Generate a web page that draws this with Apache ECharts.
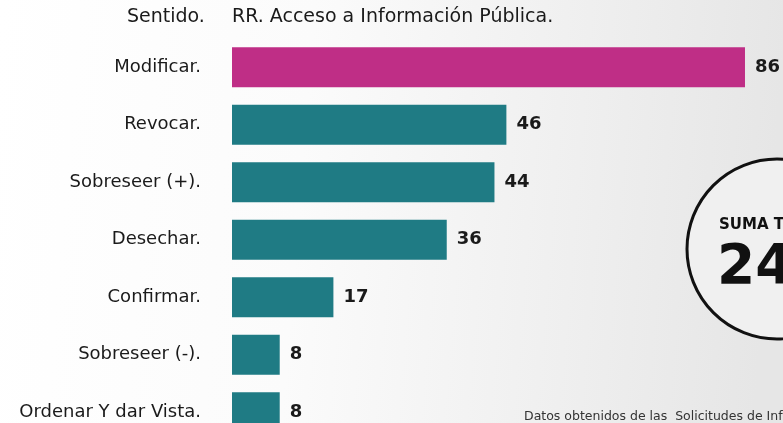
<!DOCTYPE html>
<html>
<head>
<meta charset="utf-8">
<script src="https://cdn.jsdelivr.net/npm/echarts@6/dist/echarts.min.js"></script>
<style>
  html, body { margin: 0; padding: 0; }
  #chart { width: 783px; height: 423px; }
</style>
</head>
<body>
<div id="chart"></div>
<script>
// Resoluciones de recursos de revisión por sentido
const categories = ['Modificar.', 'Revocar.', 'Sobreseer (+).', 'Desechar.', 'Confirmar.', 'Sobreseer (-).', 'Ordenar Y dar Vista.'];
const values = [86, 46, 44, 36, 17, 8, 8];
const headerLeft = 'Sentido.';
const headerRight = 'RR. Acceso a Información Pública.';
const totalLabel = 'SUMA TOTAL';
const footerText = 'Datos obtenidos de las  Solicitudes de Información Pública.';

const FONT = '"DejaVu Sans", "Noto Sans", sans-serif';
const total = values.reduce((a, b) => a + b, 0);
const maxVal = Math.max(...values);

const chart = echarts.init(document.getElementById('chart'), null, { renderer: 'canvas' });

chart.setOption({
  backgroundColor: {
    type: 'linear', x: 0, y: 0, x2: 1, y2: 0.15,
    colorStops: [
      { offset: 0, color: '#ffffff' },
      { offset: 0.4, color: '#fbfbfb' },
      { offset: 0.75, color: '#efefef' },
      { offset: 1, color: '#e6e6e6' }
    ]
  },
  animation: false,
  grid: {
    left: 232, top: 38.5, width: 596.5, height: 402.5,
    containLabel: false, outerBoundsMode: 'none'
  },
  xAxis: {
    type: 'value', min: 0, max: 100,
    show: false
  },
  yAxis: {
    type: 'category',
    data: categories,
    inverse: true,
    axisLine: { show: false },
    axisTick: { show: false },
    splitLine: { show: false },
    axisLabel: {
      margin: 31,
      color: '#1a1a1a',
      fontFamily: FONT,
      fontSize: 18
    }
  },
  series: [{
    type: 'bar',
    data: values.map(v => ({
      value: v,
      itemStyle: { color: v === maxVal ? '#bf2e86' : '#1f7b84' }
    })),
    barWidth: 40,
    label: {
      show: true,
      position: 'right',
      distance: 10,
      color: '#1a1a1a',
      fontFamily: FONT,
      fontSize: 18,
      fontWeight: 'bold'
    }
  }],
  graphic: [
    {
      type: 'text', left: 127, top: 8,
      style: { text: headerLeft, fill: '#1a1a1a', font: '19px ' + FONT }
    },
    {
      type: 'text', left: 232, top: 8,
      style: { text: headerRight, fill: '#1a1a1a', font: '19px ' + FONT }
    },
    {
      type: 'circle',
      shape: { cx: 777, cy: 249, r: 90 },
      style: { fill: '#f0f0f0', stroke: '#111111', lineWidth: 3 }
    },
    {
      type: 'text', x: 719, y: 218,
      style: { text: totalLabel, fill: '#111111', font: 'bold 15px ' + FONT }
    },
    {
      type: 'text', x: 717, y: 241,
      style: { text: String(total), fill: '#111111', font: 'bold 55px ' + FONT }
    },
    {
      type: 'text', x: 524, y: 410,
      style: { text: footerText, fill: '#333333', font: '12.5px ' + FONT }
    }
  ]
});
</script>
</body>
</html>
